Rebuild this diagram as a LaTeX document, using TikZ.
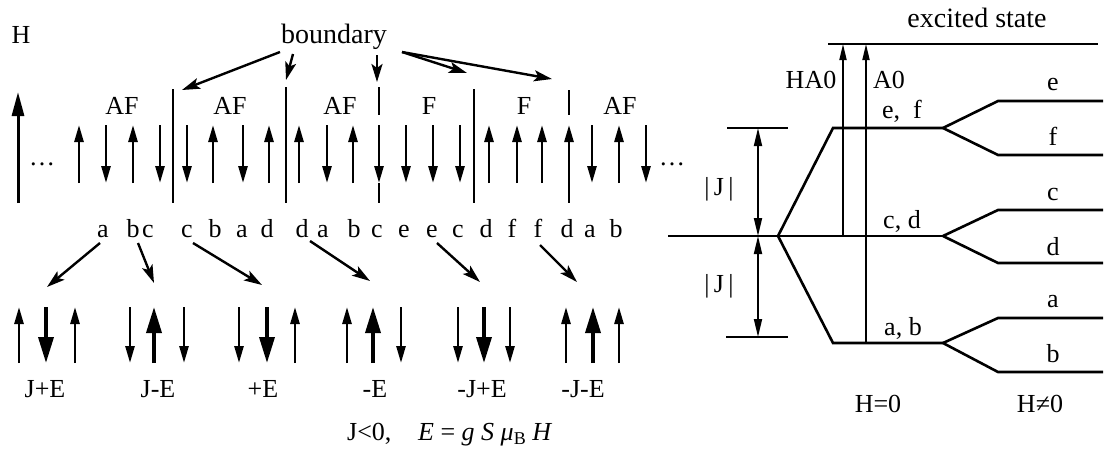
\documentclass[tikz,border=0pt]{standalone}
\usepackage{fontspec}
\setmainfont{Liberation Serif}
\usetikzlibrary{arrows.meta}
\begin{document}
\begin{tikzpicture}[x=1pt,y=-1pt,
  every node/.style={font=\fontsize{26}{28}\selectfont, inner sep=0pt},
  lbl/.style={anchor=base},
  bigtxt/.style={anchor=base, font=\fontsize{28}{30}\selectfont},
  spin/.style={line width=2.6pt, -{Triangle[length=17pt,width=9pt]}},
  boldspin/.style={line width=3.6pt, -{Triangle[length=26pt,width=15pt]}},
  field/.style={line width=3pt, -{Triangle[length=24pt,width=12pt]}},
  pointer/.style={line width=2.4pt, -{Stealth[length=18pt,width=11pt,inset=4pt]}},
  wall/.style={line width=2.2pt},
  level/.style={line width=2.6pt},
  thinline/.style={line width=1.6pt},
  transition/.style={line width=1.8pt, -{Triangle[length=16pt,width=7pt]}},
  gap/.style={line width=1.8pt, {Triangle[length=18pt,width=8pt]}-{Triangle[length=18pt,width=8pt]}},
]
\useasboundingbox (0,0) rectangle (1104,448);

% ---------- spin chain ----------
\node[lbl] (H) at (21,43) {H};
\draw[field] (18,203) -- (18,92);
\node[lbl] (dotsL) at (42,165) {\dots};
\node[lbl] (dotsR) at (672,165) {\dots};

\foreach \x in {79,133,213,269,299,353,489,517,542,569,619}
  \draw[spin] (\x,183) -- (\x,125);
\foreach \x in {106,160,187,243,327,379,406,433,460,592,646}
  \draw[spin] (\x,125) -- (\x,183);

% domain walls
\coordinate (w1) at (173,89);
\coordinate (w2) at (286,87);
\coordinate (w3) at (379,87);
\coordinate (w4) at (474,89);
\coordinate (w5) at (569,90);
\draw[wall] (w1) -- (173,203);
\draw[wall] (w2) -- (286,203);
\draw[wall] (w3) -- (379,115) (379,183) -- (379,203);
\draw[wall] (w4) -- (474,203);
\draw[wall] (w5) -- (569,115) (569,183) -- (569,203);

% domain labels
\node[lbl] (d1) at (122,114) {AF};
\node[lbl] (d2) at (230,114) {AF};
\node[lbl] (d3) at (340,114) {AF};
\node[lbl] (d4) at (429,114) {F};
\node[lbl] (d5) at (524,114) {F};
\node[lbl] (d6) at (620,114) {AF};

\node[bigtxt] (bnd) at (334,43) {boundary};
\coordinate (s1) at (280,52);
\coordinate (s2) at (293,54);
\coordinate (s3) at (377,55);
\coordinate (s4) at (402,52);
\coordinate (t1) at (182,90);
\coordinate (t2) at (286,80);
\coordinate (t3) at (377,82);
\coordinate (t4) at (467,73);
\coordinate (t5) at (552,79);
\draw[pointer] (s1) -- (t1);
\draw[pointer] (s2) -- (t2);
\draw[pointer] (s3) -- (t3);
\draw[pointer] (s4) -- (t4);
\draw[pointer] (s4) -- (t5);

% site labels
\foreach \x/\t [count=\i] in {103/a,133/b,148/c,187/c,215/b,242/a,267/d,302/d,323/a,354/b,
                              377/c,404/e,432/e,458/c,486/d,512/f,538/f,567/d,590/a,616/b}
  \node[lbl] (L\i) at (\x,237) {\t};

% three-spin configurations
\coordinate (g1) at (47,287);
\coordinate (g2) at (154,283);
\coordinate (g3) at (262,285);
\coordinate (g4) at (370,281);
\coordinate (g5) at (480,282);
\coordinate (g6) at (577,282);
\draw[pointer] (100,243) -- (g1);
\draw[pointer] (138,243) -- (g2);
\draw[pointer] (193,243) -- (g3);
\draw[pointer] (310,241) -- (g4);
\draw[pointer] (437,243) -- (g5);
\draw[pointer] (540,245) -- (g6);

% J+E
\draw[spin] (19,363) -- (19,307);
\draw[boldspin] (46,307) -- (46,363);
\draw[spin] (75,363) -- (75,307);
% J-E
\draw[spin] (130,307) -- (130,363);
\draw[boldspin] (154,363) -- (154,307);
\draw[spin] (184,307) -- (184,363);
% +E
\draw[spin] (239,307) -- (239,363);
\draw[boldspin] (267,307) -- (267,363);
\draw[spin] (295,363) -- (295,307);
% -E
\draw[spin] (347,363) -- (347,307);
\draw[boldspin] (373,363) -- (373,307);
\draw[spin] (401,307) -- (401,363);
% -J+E
\draw[spin] (458,307) -- (458,363);
\draw[boldspin] (484,307) -- (484,363);
\draw[spin] (510,307) -- (510,363);
% -J-E
\draw[spin] (566,363) -- (566,307);
\draw[boldspin] (593,363) -- (593,307);
\draw[spin] (619,363) -- (619,307);

\node[lbl] (e1) at (45,397) {J+E};
\node[lbl] (e2) at (158,397) {J-E};
\node[lbl] (e3) at (263,397) {+E};
\node[lbl] (e4) at (375,397) {-E};
\node[lbl] (e5) at (482,397) {-J+E};
\node[lbl] (e6) at (583,397) {-J-E};

\node[anchor=base west] (cap1) at (347,440) {J<0,};
\node[anchor=base west] (cap2) at (418,440)
  {\itshape E\/ \upshape= \itshape g S μ\/\upshape\raisebox{-0.35ex}{\fontsize{18}{20}\selectfont B} \itshape H};

% ---------- level scheme ----------
\node[bigtxt] (exc) at (977,27) {excited state};
\coordinate (ex1) at (828,44);
\coordinate (ex2) at (1098,44);
\draw[thinline] (ex1) -- (ex2);

\coordinate (ef) at (943,128);
\coordinate (cd) at (943,236);
\coordinate (ab) at (943,343);
\coordinate (v) at (778,236);
\draw[level] (ef) -- (833,128) -- (v) -- (833,343) -- (ab);
\draw[thinline] (668,236) -- (cd);

\draw[level] (ef) -- (998,101) -- (1103,101);
\draw[level] (ef) -- (998,155) -- (1103,155);
\draw[level] (cd) -- (998,210) -- (1103,210);
\draw[level] (cd) -- (998,263) -- (1103,263);
\draw[level] (ab) -- (998,318) -- (1103,318);
\draw[level] (ab) -- (998,372) -- (1103,372);

\draw[transition] (843,236) -- (843,44);
\draw[transition] (866,343) -- (866,44);
\node[lbl] (ha0) at (811,88) {HA0};
\node[lbl] (a0) at (889,88) {A0};

\node[lbl] (lef) at (902,118) {e,\ \ f};
\node[lbl] (lcd) at (902,228) {c, d};
\node[lbl] (lab) at (903,335) {a, b};

\node[lbl] (le) at (1053,90) {e};
\node[lbl] (lf) at (1053,145) {f};
\node[lbl] (lc) at (1053,200) {c};
\node[lbl] (ld) at (1053,255) {d};
\node[lbl] (la) at (1053,307) {a};
\node[lbl] (lb) at (1053,362) {b};

% exchange splitting
\coordinate (jt) at (758,128);
\coordinate (jm) at (758,236);
\coordinate (jb) at (758,337);
\draw[thinline] (727,128) -- (788,128);
\draw[thinline] (726,337) -- (788,337);
\draw[gap] (jt) -- (jm);
\draw[gap] (jm) -- (jb);
\node[lbl] (j1) at (719,195) {|\,J\,|};
\node[lbl] (j2) at (719,292) {|\,J\,|};

\node[lbl] (h0) at (878,412) {H=0};
\node[lbl] (hn) at (1040,412) {H≠0};
\end{tikzpicture}
\end{document}
